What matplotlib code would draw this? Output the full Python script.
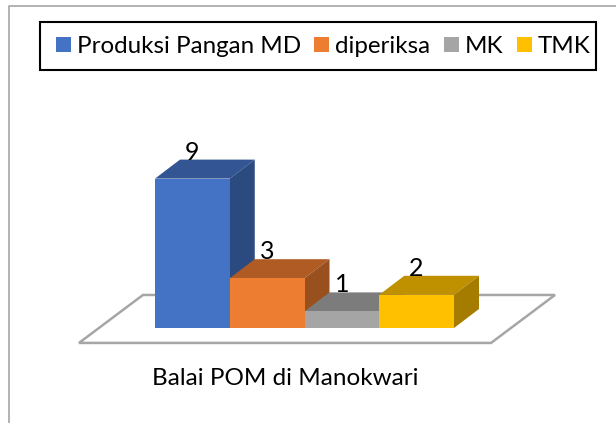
import matplotlib
matplotlib.use('Agg')

import matplotlib.pyplot as plt
from matplotlib.patches import Patch, Polygon, Rectangle

# === Data ===
series = ["Produksi Pangan MD", "diperiksa", "MK", "TMK"]
values = [9, 3, 1, 2]
category = "Balai POM di Manokwari"

front_colors = ["#4472C4", "#ED7D31", "#A5A5A5", "#FFC000"]
top_colors = ["#335593", "#B15B24", "#7C7C7C", "#BF9000"]
side_colors = ["#2A4A80", "#97501E", "#6A6A6A", "#A67C00"]

plt.rcParams['font.family'] = ['Lato', 'DejaVu Sans']

W, H = 616, 423
fig = plt.figure(figsize=(W / 100, H / 100), dpi=100)
ax = fig.add_axes([0, 0, 1, 1])

# one x unit = one bar, one y unit = one count
px_x = 74.75
px_y = 16.6
x0_px, y0_px = 155, 328
ax.set_xlim(-x0_px / px_x, (W - x0_px) / px_x)
ax.set_ylim((y0_px - H) / px_y, y0_px / px_y)
ax.axis("off")

# depth of the fake 3D look
dx = 25 / px_x
dy = 19 / px_y

# === Chart border (left and top only) ===
ax.plot([9 / W, 9 / W, 1], [0, 1 - 6 / H, 1 - 6 / H], transform=ax.transAxes,
        color="#A6A6A6", lw=1.2, clip_on=False)

# === Floor ===
floor_l, floor_r = -1.017, 4.495
floor_front, floor_back = -0.9, 1.99
floor_shift = 0.856
ax.add_patch(Polygon([(floor_l, floor_front), (floor_r, floor_front),
                      (floor_r + floor_shift, floor_back), (floor_l + floor_shift, floor_back)],
                     closed=True, facecolor="white", edgecolor="#A6A6A6", lw=1.8, zorder=1))

# === Bars, left to right so each one overlaps the previous ===
for i, v in enumerate(values):
    z = 2 + i
    ax.add_patch(Polygon([(i, v), (i + 1, v), (i + 1 + dx, v + dy), (i + dx, v + dy)],
                         closed=True, facecolor=top_colors[i], edgecolor="none", zorder=z))
    ax.add_patch(Polygon([(i + 1, 0), (i + 1 + dx, dy), (i + 1 + dx, v + dy), (i + 1, v)],
                         closed=True, facecolor=side_colors[i], edgecolor="none", zorder=z))
    ax.bar(i, v, width=1, align="edge", color=front_colors[i], zorder=z)

for i, v in enumerate(values):
    ax.text(i + 0.5, v + dy, str(v), ha="center", va="baseline", fontsize=18, color="black", zorder=10)

ax.text(1.74, -3.45, category, ha="center", va="baseline", fontsize=17.5, color="black")

# === Legend, frame drawn apart because its padding is lopsided ===
ax.add_patch(Rectangle((40 / W, 1 - 70 / H), 556 / W, 48 / H, transform=ax.transAxes,
                       facecolor="white", edgecolor="black", lw=1.5, zorder=11))
handles = [Patch(facecolor=c, edgecolor="none") for c in front_colors]
leg = ax.legend(handles, series, loc="upper left", bbox_to_anchor=(56 / W, 1 - 36 / H), ncol=4,
                fontsize=17.4, frameon=False, borderaxespad=0, handlelength=0.62,
                handleheight=0.62, handletextpad=0.25, columnspacing=0.55, borderpad=0)
leg.set_zorder(12)

fig.savefig("out.png", dpi=100)
